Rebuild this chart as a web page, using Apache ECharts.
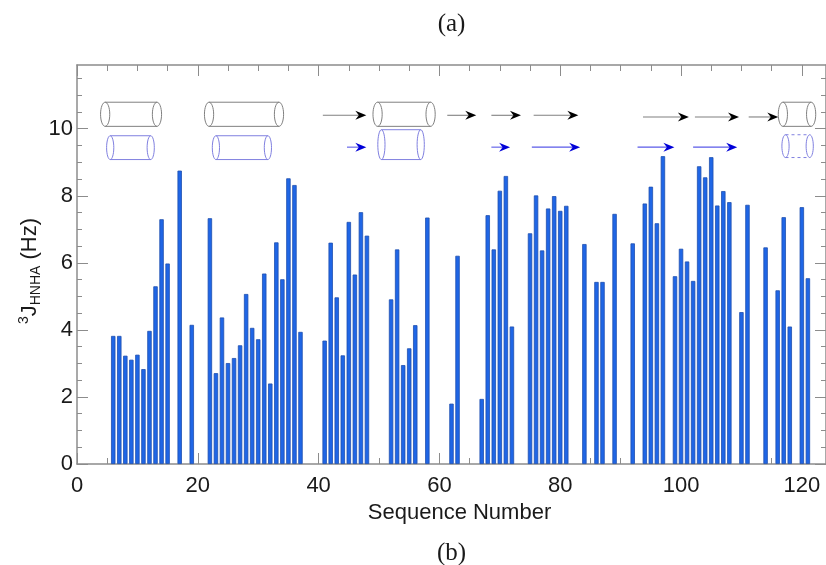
<!DOCTYPE html>
<html><head><meta charset="utf-8">
<style>html,body{margin:0;padding:0;background:#fff}#c{width:826px;height:565px}</style>
<script src="https://cdn.jsdelivr.net/npm/echarts@6/dist/echarts.min.js"></script>
</head><body><div id="c"></div>
<script>
const seqNumbers=[6,7,8,9,10,11,12,13,14,15,17,19,22,23,24,25,26,27,28,29,30,31,32,33,34,35,36,37,41,42,43,44,45,46,47,48,52,53,54,55,56,58,62,63,67,68,69,70,71,72,75,76,77,78,79,80,81,84,86,87,89,92,94,95,96,97,99,100,101,102,103,104,105,106,107,108,110,111,114,116,117,118,120,121];
const jValues=[3.82,3.82,3.23,3.11,3.26,2.83,3.97,5.30,7.30,5.98,8.75,4.15,7.33,2.71,4.37,3.01,3.16,3.54,5.07,4.06,3.72,5.68,2.40,6.61,5.51,8.52,8.32,3.94,3.68,6.60,4.97,3.24,7.22,5.65,7.51,6.81,4.91,6.40,2.95,3.45,4.14,7.35,1.80,6.21,1.94,7.42,6.40,8.15,8.59,4.10,6.88,8.01,6.37,7.62,7.99,7.55,7.70,6.56,5.43,5.43,7.46,6.58,7.77,8.27,7.18,9.18,5.60,6.42,6.04,5.46,8.88,8.55,9.15,7.71,8.14,7.81,4.53,7.73,6.46,5.18,7.36,4.10,7.66,5.54];
const xMajorTicks=[0,20,40,60,80,100,120];
const xMinorTicks=[5,10,15,25,30,35,45,50,55,65,70,75,85,90,95,105,110,115];
const yMajorTicks=[0,2,4,6,8,10];
const yMinorTicks=[0.5,1,1.5,2.5,3,3.5,4.5,5,5.5,6.5,7,7.5,8.5,9,9.5,10.5,11,11.5];
// [start residue, end residue, low J, high J]
const greyHelices=[[3.9,14,10.07,10.79],[21.1,34.2,10.07,10.79],[49,59.3,10.07,10.79],[116.1,122.3,10.07,10.79]];
const blueHelices=[[4.9,12.8,9.08,9.79],[22.4,32.2,9.08,9.79],[49.8,57.5,9.08,9.97]];
const blueDashedHelices=[[116.7,121.9,9.14,9.82]];
// [start residue, end residue, J level]
const blackStrands=[[40.7,47.9,10.4],[61.3,66.1,10.4],[68.6,73.5,10.4],[75.6,83,10.4],[93.7,101.3,10.35],[102.3,109.6,10.35],[111.2,116.1,10.35]];
const blueStrands=[[44.7,47.9,9.45],[68.6,71.7,9.45],[75.3,83.3,9.45],[92.8,98.9,9.45],[102,109.3,9.45]];

const AX='#8c8c8c', XMAX=124, YMAX=11.9;
const chart=echarts.init(document.getElementById('c'),null,{renderer:'canvas'});
function lineS(on){return {show:on,onZero:false,lineStyle:{color:AX,width:1.5}};}
function xAx(pos,ticks,len,labels,line,extra){return Object.assign({type:'value',position:pos,min:0,max:XMAX,splitLine:{show:false},axisLine:lineS(line),
  axisTick:{show:true,inside:true,length:len,customValues:ticks,lineStyle:{color:AX,width:1}},
  axisLabel:labels?{show:true,customValues:ticks,color:'#1a1a1a',fontSize:22,fontFamily:'Liberation Sans',margin:11}:{show:false}},extra||{});}
function yAx(pos,ticks,len,labels,line,extra){return Object.assign({type:'value',position:pos,min:0,max:YMAX,splitLine:{show:false},axisLine:lineS(line),
  axisTick:{show:true,inside:true,length:len,customValues:ticks,lineStyle:{color:AX,width:1}},
  axisLabel:labels?{show:true,customValues:ticks,color:'#1a1a1a',fontSize:22,fontFamily:'Liberation Sans',margin:4}:{show:false}},extra||{});}

function helixItem(dashed,stroke,data){return {type:'custom',xAxisIndex:0,yAxisIndex:0,silent:true,clip:false,z:5,data:data,encode:{x:[0,1],y:[2,3]},
  renderItem(p,api){
    const a=api.coord([api.value(0),api.value(3)]),b=api.coord([api.value(1),api.value(2)]);
    const rx=stroke==='#8080e0'?3.6:4.6, ry=(b[1]-a[1])/2, cy=(a[1]+b[1])/2;
    const st={fill:'none',stroke:stroke,lineWidth:1};
    const side=Object.assign({},st,dashed?{lineDash:[3,3]}:{});
    return {type:'group',children:[
      {type:'ellipse',shape:{cx:a[0]+rx,cy:cy,rx:rx,ry:ry},style:st},
      {type:'ellipse',shape:{cx:b[0]-rx,cy:cy,rx:rx,ry:ry},style:st},
      {type:'line',shape:{x1:a[0]+rx,y1:a[1],x2:b[0]-rx,y2:a[1]},style:side},
      {type:'line',shape:{x1:a[0]+rx,y1:b[1],x2:b[0]-rx,y2:b[1]},style:side}
    ]};
  }};}
function strandItem(lineCol,headCol,data){return {type:'custom',xAxisIndex:0,yAxisIndex:0,silent:true,clip:false,z:5,data:data,encode:{x:[0,1],y:2},
  renderItem(p,api){
    const a=api.coord([api.value(0),api.value(2)]),b=api.coord([api.value(1),api.value(2)]);
    const x=b[0],y=a[1];
    return {type:'group',children:[
      {type:'line',shape:{x1:a[0],y1:y,x2:x-4,y2:y},style:{stroke:lineCol,lineWidth:1.1}},
      {type:'polygon',shape:{points:[[x,y],[x-11,y-4.5],[x-7.5,y],[x-11,y+4.5]]},style:{fill:headCol}}
    ]};
  }};}

chart.setOption({
  animation:false,backgroundColor:'#fff',
  grid:{left:77,right:0,top:65,bottom:101,containLabel:false},
  xAxis:[
    xAx('bottom',xMajorTicks,11,true,true,{name:'Sequence Number',nameLocation:'middle',nameGap:32,nameTextStyle:{color:'#1a1a1a',fontSize:22,fontFamily:'Liberation Sans',padding:[0,0,0,16]}}),
    xAx('bottom',xMinorTicks,6,false,false),
    xAx('top',xMajorTicks,11,false,true),
    xAx('top',xMinorTicks,6,false,false)
  ],
  yAxis:[
    yAx('left',yMajorTicks,11,true,true),
    yAx('left',yMinorTicks,5,false,false),
    yAx('right',yMajorTicks,11,false,true),
    yAx('right',yMinorTicks,5,false,false)
  ],
  graphic:[
    {type:'text',x:451.5,y:24,style:{text:'(a)',font:'25px "Liberation Serif"',fill:'#1a1a1a',align:'center',verticalAlign:'middle'}},
    {type:'text',x:451.5,y:553,style:{text:'(b)',font:'25px "Liberation Serif"',fill:'#1a1a1a',align:'center',verticalAlign:'middle'}},
    {type:'text',x:30,y:271,rotation:Math.PI/2,style:{
      text:'{s|3}{j|J}{b|HNHA}{j| (Hz)}',align:'center',verticalAlign:'middle',
      rich:{s:{fontSize:14,fontFamily:'Liberation Sans',fill:'#1a1a1a',verticalAlign:'top',lineHeight:26},
            j:{fontSize:22,fontFamily:'Liberation Sans',fill:'#1a1a1a',lineHeight:26},
            b:{fontSize:14,fontFamily:'Liberation Sans',fill:'#1a1a1a',verticalAlign:'bottom',lineHeight:26}}}}
  ],
  series:[
    {type:'bar',xAxisIndex:0,yAxisIndex:0,barWidth:4.4,z:3,itemStyle:{color:'#1f66e6',borderColor:'#1f4fae',borderWidth:0.8},
     data:seqNumbers.map((s,i)=>[s,jValues[i]])},
    helixItem(false,'#808080',greyHelices),
    helixItem(false,'#8080e0',blueHelices),
    helixItem(true,'#8080e0',blueDashedHelices),
    strandItem('#808080','#000000',blackStrands),
    strandItem('#5a5ae8','#0000d8',blueStrands)
  ]
});
</script></body></html>
